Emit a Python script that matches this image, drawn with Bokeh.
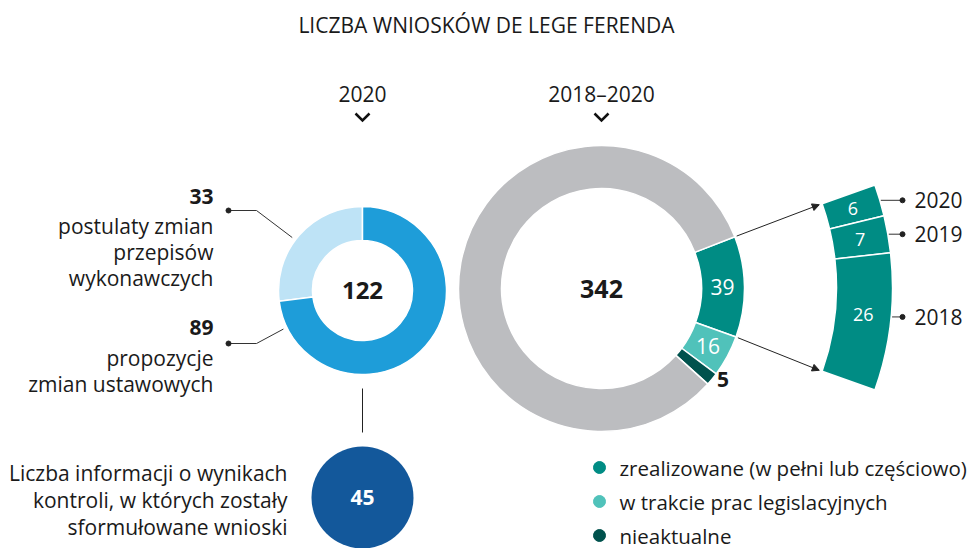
import math
from bokeh.plotting import figure
from bokeh.models import Range1d, Arrow, NormalHead
from bokeh.core.properties import value
from bokeh.embed import file_html
from bokeh.resources import INLINE

# ---------------- data ----------------
title = "LICZBA WNIOSKÓW DE LEGE FERENDA"
left_header = "2020"
right_header = "2018–2020"

left_values = [33, 89]
left_labels = [["postulaty zmian", "przepisów", "wykonawczych"],
               ["propozycje", "zmian ustawowych"]]
left_colors = ["#bee3f6", "#1e9dd9"]

status_names = ["zrealizowane (w pełni lub częściowo)",
                "w trakcie prac legislacyjnych", "nieaktualne"]
status_values = [39, 16, 5]
status_colors = ["#008c84", "#50c2ba", "#00524d"]
total_all = 342
other_color = "#bcbdc0"

year_labels = ["2020", "2019", "2018"]
year_values = [6, 7, 26]

reports_text = ["Liczba informacji o wynikach",
                "kontroli, w których zostały",
                "sformułowane wnioski"]
reports_value = 45
reports_color = "#13589b"

# ---------------- layout ----------------
FONT = value("Open Sans")
W, H = 968, 548


def Y(v):
    return H - v


def rad(d):
    return math.radians(d)


p = figure(width=W, height=H, x_range=Range1d(0, W), y_range=Range1d(0, H),
           output_backend="svg", toolbar_location=None, min_border=0,
           background_fill_color="white", border_fill_color="white")
p.axis.visible = False
p.grid.visible = False
p.outline_line_color = None


def txt(x, y, s, size, align="center", bold=False, color="#1a1a1a"):
    p.text(x=[x], y=[Y(y)], text=[s], text_font=FONT,
           text_font_size=value(size), text_align=align, text_baseline="middle",
           text_color=color, text_font_style="bold" if bold else "normal")


# title + headers
txt(486, 24, title, "21px")
c1x, c1y = 362, 290
c2x, c2y = 601, 288
txt(c1x, 93, left_header, "21px")
txt(c2x, 93, right_header, "21px")
for cx in (c1x, c2x):
    p.line(x=[cx - 7, cx, cx + 7], y=[Y(113), Y(120), Y(113)],
           line_width=2.5, line_color="#111111", line_join="miter")

# ---------------- left donut ----------------
ltot = sum(left_values)
a_light = left_values[0] / ltot * 360
starts = [90, 90 + a_light]
ends = [90 + a_light, 450]
p.annular_wedge(x=c1x, y=Y(c1y), inner_radius=50, outer_radius=84,
                start_angle=[rad(s) for s in starts], end_angle=[rad(e) for e in ends],
                fill_color=left_colors, line_color="white", line_width=1.5)
txt(c1x, c1y, str(ltot), "24px", bold=True)

# leaders left
for (ang, ly) in ((143, 210), (206, 343)):
    ex = c1x + 88 * math.cos(rad(ang))
    ey = c1y - 88 * math.sin(rad(ang))
    p.line(x=[228, 256, ex], y=[Y(ly), Y(ly), Y(ey)], line_color="#333333", line_width=1)
    p.scatter(x=[228], y=[Y(ly)], size=5, color="#222222")

txt(213, 196, str(left_values[0]), "21px", align="right", bold=True)
for i, s in enumerate(left_labels[0]):
    txt(213, 225 + i * 26, s, "21px", align="right")
txt(213, 327, str(left_values[1]), "21px", align="right", bold=True)
for i, s in enumerate(left_labels[1]):
    txt(213, 357 + i * 26, s, "21px", align="right")

# connector to reports circle
p.line(x=[c1x, c1x], y=[Y(388), Y(432)], line_color="#222222", line_width=1)
p.circle(x=[c1x], y=[Y(497)], radius=51, fill_color=reports_color, line_color=None)
txt(c1x, 497, str(reports_value), "21px", bold=True, color="white")
for i, s in enumerate(reports_text):
    txt(287, 472 + i * 27, s, "21px", align="right")

# ---------------- right donut ----------------
top_angle = 21.2
vals = status_values + [total_all - sum(status_values)]
cols = status_colors + [other_color]
st, en = [], []
cur = top_angle
for v in vals:
    span = v / total_all * 360
    en.append(rad(cur))
    st.append(rad(cur - span))
    cur -= span
p.annular_wedge(x=c2x, y=Y(c2y), inner_radius=100, outer_radius=143,
                start_angle=st, end_angle=en, fill_color=cols,
                line_color="white", line_width=1.5)
txt(c2x, c2y, str(total_all), "25px", bold=True)

# labels on status slices
mid0 = top_angle - status_values[0] / total_all * 180
txt(c2x + 121 * math.cos(rad(mid0)), c2y - 121 * math.sin(rad(mid0)),
    str(status_values[0]), "21px", color="white")
a1 = top_angle - status_values[0] / total_all * 360
mid1 = a1 - status_values[1] / total_all * 180
txt(c2x + 121 * math.cos(rad(mid1)), c2y - 121 * math.sin(rad(mid1)),
    str(status_values[1]), "21px", color="white")
a2 = a1 - status_values[1] / total_all * 360
mid2 = a2 - status_values[2] / total_all * 180
txt(c2x + 157 * math.cos(rad(mid2)), c2y - 157 * math.sin(rad(mid2)) - 8,
    str(status_values[2]), "21px", bold=True)

# ---------------- breakdown ring segment ----------------
sx, sy = 585, 287
r_in, r_out = 251, 307
deg_per = 1.0
seg_top = sum(year_values) * deg_per / 2
cur = seg_top
b_st, b_en, mids = [], [], []
for v in year_values:
    span = v * deg_per
    b_en.append(rad(cur))
    b_st.append(rad(cur - span))
    mids.append(cur - span / 2)
    cur -= span
p.annular_wedge(x=sx, y=Y(sy), inner_radius=r_in, outer_radius=r_out,
                start_angle=b_st, end_angle=b_en, fill_color=status_colors[0],
                line_color="white", line_width=1.5)
for v, m, yl in zip(year_values, mids, year_labels):
    rm = (r_in + r_out) / 2
    m_lbl = m + 1.0 if v > 10 else m
    txt(sx + rm * math.cos(rad(m_lbl)), sy - rm * math.sin(rad(m_lbl)), str(v), "18px", color="white")
    ox = sx + (r_out + 1) * math.cos(rad(m_lbl))
    oy = sy - r_out * math.sin(rad(m_lbl))
    p.line(x=[ox, 902], y=[Y(oy), Y(oy)], line_color="#333333", line_width=1)
    p.scatter(x=[902], y=[Y(oy)], size=5, color="#222222")
    txt(914, oy, yl, "21px", align="left")

# arrows from donut to segment
for ang_d, ang_s in ((top_angle, seg_top), (top_angle - status_values[0] / total_all * 360, -seg_top)):
    x0 = c2x + 145 * math.cos(rad(ang_d))
    y0 = c2y - 145 * math.sin(rad(ang_d))
    x1 = sx + (r_in - 3) * math.cos(rad(ang_s))
    y1 = sy - (r_in - 3) * math.sin(rad(ang_s))
    p.add_layout(Arrow(end=NormalHead(size=7, fill_color="#222222", line_color="#222222"),
                       x_start=x0, y_start=Y(y0), x_end=x1, y_end=Y(y1),
                       line_color="#222222", line_width=1))

# ---------------- legend ----------------
for i, (name, col) in enumerate(zip(status_names, status_colors)):
    ly = 467 + i * 34
    p.scatter(x=[599], y=[Y(ly)], size=12, color=col)
    txt(619, ly, name, "20.5px", align="left")

open("out.html", "w").write(file_html(p, INLINE))
